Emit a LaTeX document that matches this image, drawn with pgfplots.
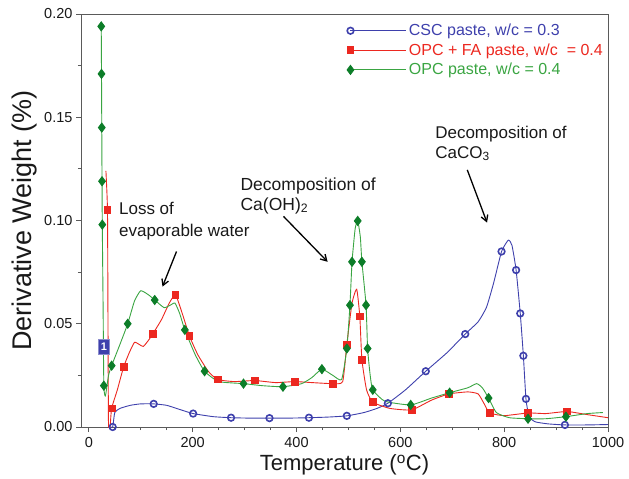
\documentclass[border=0pt]{standalone}
\usepackage{pgfplots}
\pgfplotsset{compat=1.18}
\usepackage{fontspec}
\setmainfont{Liberation Sans}
\usetikzlibrary{arrows.meta}

\definecolor{cscblue}{RGB}{62,64,172}
\definecolor{fared}{RGB}{236,40,32}
\definecolor{opcgreen}{RGB}{58,165,66}
\definecolor{opcdark}{RGB}{12,125,40}
\definecolor{axgray}{RGB}{90,90,90}

\begin{document}
\begin{tikzpicture}
\begin{axis}[
  name=ax,
  scale only axis,
  width=527pt, height=413pt,
  xmin=-15, xmax=1000, ymin=0, ymax=0.2,
  xtick={0,200,400,600,800,1000},
  ytick={0,0.05,0.1,0.15,0.2},
  minor x tick num=3, minor y tick num=1,
  tick align=outside, tick pos=left,
  major tick length=5pt, minor tick length=3pt,
  axis line style={draw=axgray, line width=0.9pt},
  every tick/.style={axgray, line width=0.9pt},
  /pgf/number format/assume math mode=true,
  tick label style={font=\fontsize{14.5}{16}\selectfont, text=black!90},
  yticklabel style={/pgf/number format/.cd, fixed, fixed zerofill, precision=2},
  xticklabel style={/pgf/number format/1000 sep={}, yshift=-1.5pt},
  xlabel={Temperature (\textsuperscript{o}C)},
  ylabel={Derivative Weight (\%)},
  xlabel style={font=\fontsize{22}{24}\selectfont, text=black!90, yshift=-0.5pt},
  ylabel style={font=\fontsize{27}{29}\selectfont, text=black!90, yshift=0pt},
  legend style={at={(1,1)}, anchor=north east, draw=none, fill=none,
    font=\fontsize{16}{18}\selectfont, row sep=2.5pt, inner sep=3pt,
    yshift=-5pt, cells={anchor=west}},
  legend image code/.code={
    \draw[#1, mark=none] (0pt,0pt) -- (56pt,0pt);
    \draw[#1, mark indices={1}] plot coordinates {(0pt,0pt)};
  },
]

% CSC paste, w/c = 0.3
\addplot[color=cscblue, line width=0.9pt, smooth, tension=0.3,
  mark=o, mark size=3.3pt, mark options={line width=1.6pt, fill=white, solid},
  mark indices={2,7,10,12,14,16,18,21,23,25,29,32,33,34,35,39}]
coordinates {
  (38,0.000) (46,0.000) (50,0.007) (60,0.009) (80,0.0105) (100,0.0112)
  (125,0.0112) (150,0.0105) (175,0.0085) (201,0.0065) (240,0.005)
  (274,0.0045) (310,0.0043) (348,0.0043) (385,0.0043) (424,0.0045)
  (460,0.0048) (497,0.0054) (530,0.007) (555,0.009) (576,0.0115)
  (610,0.018) (649,0.027) (690,0.036) (725,0.045) (750,0.051)
  (766,0.058) (780,0.070) (795,0.085) (808,0.0905) (815,0.088)
  (823,0.076) (831,0.055) (837,0.0345) (842,0.0136) (848,0.005)
  (860,0.0025) (885,0.0015) (917,0.001) (960,0.001) (1000,0.0012)
};
\addlegendentry{\textcolor{cscblue}{CSC paste, w/c = 0.3}}

% OPC + FA paste, w/c = 0.4
\addplot[color=fared, line width=0.9pt, smooth, tension=0.3,
  mark=square*, mark size=3.4pt, mark options={solid},
  mark indices={2,6,8,14,17,19,22,24,26,28,30,33,34,36,38,40,44,46,48}]
coordinates {
  (33,0.124) (36,0.105) (37,0.05) (38,0.0) (41,0.0) (44,0.009)
  (55,0.018) (67,0.029) (78,0.036) (88,0.041) (97,0.040) (105,0.039)
  (115,0.042) (123,0.045) (140,0.052) (155,0.060) (167,0.064)
  (180,0.055) (194,0.044) (210,0.035) (230,0.027) (248,0.023)
  (280,0.022) (320,0.0225) (360,0.0215) (397,0.022) (430,0.0215)
  (470,0.021) (489,0.022) (497,0.040) (507,0.060) (516,0.0667)
  (522,0.0535) (526,0.0326) (535,0.018) (547,0.012) (580,0.009)
  (622,0.0083) (660,0.013) (693,0.016) (730,0.017) (750,0.016)
  (762,0.011) (772,0.0068) (800,0.0055) (846,0.0068) (880,0.0065)
  (921,0.0075) (960,0.006) (1000,0.0045)
};
\addlegendentry{\textcolor{fared}{OPC + FA paste, w/c \ = 0.4}}

% OPC paste, w/c = 0.4
\addplot[color=opcgreen, line width=0.9pt, smooth, tension=0.3,
  mark=diamond*, mark size=4.5pt, mark options={solid, draw=opcdark, fill=opcdark},
  mark indices={1,2,3,4,5,7,10,12,16,21,23,25,27,30,33,34,35,37,39,40,41,43,45,47,51,54,56}]
coordinates {
  (24,0.194) (24.5,0.171) (25,0.145) (25.5,0.119) (26,0.098) (27.5,0.06)
  (29,0.020) (32,0.015) (38,0.025) (44,0.0297) (60,0.040) (75,0.050)
  (88,0.061) (100,0.066) (115,0.064) (127,0.0615) (145,0.0578)
  (157,0.059) (166,0.060) (175,0.055) (185,0.047) (205,0.035)
  (223,0.027) (250,0.022) (298,0.021) (335,0.020) (374,0.0195)
  (410,0.021) (430,0.024) (449,0.028) (470,0.025) (487,0.023)
  (497,0.038) (503,0.059) (507,0.080) (513,0.096) (518,0.0998)
  (523,0.092) (526,0.080) (534,0.059) (537,0.038) (542,0.025)
  (547,0.018) (570,0.0125) (620,0.0107) (660,0.014) (695,0.0166)
  (730,0.019) (747,0.021) (758,0.019) (770,0.014) (785,0.007)
  (810,0.0045) (846,0.004) (880,0.004) (919,0.005) (960,0.0065)
  (990,0.007)
};
\addlegendentry{\textcolor{opcgreen}{OPC paste, w/c = 0.4}}

% annotations
\node[anchor=north west, align=left, inner sep=0pt, text=black!90,
  font=\fontsize{17}{22}\selectfont] at (axis cs:58,0.109)
  {Loss of\\evaporable water};
\node[anchor=north west, align=left, inner sep=0pt, text=black!90,
  font=\fontsize{17.5}{20}\selectfont] at (axis cs:292,0.121)
  {Decomposition of\\Ca(OH)\textsubscript{2}};
\node[anchor=north west, align=left, inner sep=0pt, text=black!90,
  font=\fontsize{17}{20}\selectfont] at (axis cs:667,0.146)
  {Decomposition of\\CaCO\textsubscript{3}};
\draw[-{Straight Barb[length=6pt,width=7pt]}, line width=1.3pt]
  (axis cs:169,0.085) -- (axis cs:142,0.068);
\draw[-{Straight Barb[length=6pt,width=7pt]}, line width=1.3pt]
  (axis cs:375,0.102) -- (axis cs:460,0.080);
\draw[-{Straight Barb[length=6pt,width=7pt]}, line width=1.3pt]
  (axis cs:729,0.1245) -- (axis cs:767,0.099);
\node[fill=cscblue, draw=cscblue!60, text=white, inner sep=0pt,
  minimum width=11pt, minimum height=15pt,
  font=\fontsize{11}{12}\selectfont\bfseries] at (axis cs:29,0.0388) {1};
\end{axis}
\pgfresetboundingbox
\path ([xshift=-81pt,yshift=-52pt]ax.south west) rectangle ([xshift=21pt,yshift=14pt]ax.north east);
\end{tikzpicture}
\end{document}
